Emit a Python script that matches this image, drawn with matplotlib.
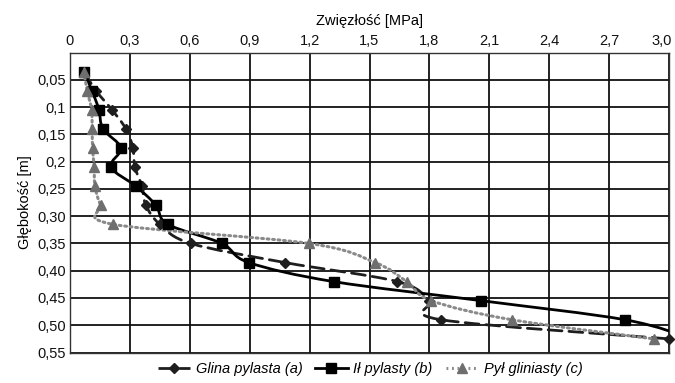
import numpy as np
import matplotlib
matplotlib.use("Agg")
import matplotlib.pyplot as plt
from matplotlib.path import Path
from matplotlib.patches import PathPatch
from matplotlib.lines import Line2D
from matplotlib.transforms import ScaledTranslation

plt.rcParams['font.family'] = ['Liberation Sans', 'DejaVu Sans']

depth = [0.035, 0.07, 0.105, 0.14, 0.175, 0.21, 0.245, 0.28, 0.315,
         0.35, 0.385, 0.42, 0.455, 0.49, 0.525]
glina = [0.07, 0.13, 0.21, 0.28, 0.315, 0.325, 0.36, 0.38, 0.45,
         0.605, 1.075, 1.64, 1.80, 1.86, 3.0]
il = [0.07, 0.11, 0.145, 0.165, 0.255, 0.205, 0.33, 0.43, 0.49,
      0.76, 0.895, 1.32, 2.06, 2.78, 3.12]
pyl = [0.07, 0.086, 0.108, 0.111, 0.113, 0.121, 0.125, 0.154, 0.216,
       1.196, 1.528, 1.686, 1.81, 2.214, 2.923]

labels = ['Glina pylasta (a)', 'Ił pylasty (b)', 'Pył gliniasty (c)']
xticks = [0, 0.3, 0.6, 0.9, 1.2, 1.5, 1.8, 2.1, 2.4, 2.7, 3.0]
xticklabels = ['0', '0,3', '0,6', '0,9', '1,2', '1,5', '1,8', '2,1', '2,4', '2,7', '3,0']
yticks = [0.05, 0.1, 0.15, 0.2, 0.25, 0.3, 0.35, 0.4, 0.45, 0.5, 0.55]
yticklabels = ['0,05', '0,1', '0,15', '0,2', '0,25', '0,30', '0,35', '0,40', '0,45', '0,50', '0,55']


def smooth_path(xs, ys):
    P = np.column_stack([xs, ys]).astype(float)
    n = len(P)
    verts = [P[0]]
    codes = [Path.MOVETO]
    for i in range(n - 1):
        p0 = P[i - 1] if i > 0 else P[i]
        p1 = P[i]
        p2 = P[i + 1]
        p3 = P[i + 2] if i + 2 < n else P[i + 1]
        c1 = p1 + (p2 - p0) / 6.0
        c2 = p2 - (p3 - p1) / 6.0
        verts += [c1, c2, p2]
        codes += [Path.CURVE4] * 3
    return Path(verts, codes)


fig = plt.figure(figsize=(6.75, 3.83), dpi=100)
ax = fig.add_axes([70 / 675, 1 - 352.5 / 383, 599 / 675, 300 / 383])

ax.set_xlim(0, 3.0)
ax.set_ylim(0.55, 0)
ax.xaxis.tick_top()
ax.xaxis.set_label_position('top')
ax.set_xticks(xticks)
ax.set_xticklabels(xticklabels)
ax.set_yticks(yticks)
ax.set_yticklabels(yticklabels)
ax.tick_params(axis='both', length=0, labelsize=10.5, pad=3, colors='#111111')
ax.grid(True, color='#111111', linewidth=1.3)
ax.set_axisbelow(True)
for s in ax.spines.values():
    s.set_color('#333333')
    s.set_linewidth(1.0)

last = ax.get_xticklabels()[-1]
last.set_transform(last.get_transform() + ScaledTranslation(-5 / 72, 0, fig.dpi_scale_trans))

ax.set_xlabel('Zwięzłość [MPa]', fontsize=10.5, labelpad=7)
ax.set_ylabel('Głębokość [m]', fontsize=10.5, labelpad=4)

styles = [
    dict(color='#1e1e1e', ls=(0, (5, 2.5)), lw=2.0, marker='D', ms=5.5, mc='#1e1e1e'),
    dict(color='#000000', ls='-', lw=2.0, marker='s', ms=6.5, mc='#000000'),
    dict(color='#8a8a8a', ls=(0, (0.6, 1.2)), lw=2.2, marker='^', ms=7, mc='#6e6e6e'),
]
series = [glina, il, pyl]
handles = []
for vals, st, lab in zip(series, styles, labels):
    path = smooth_path(vals, depth)
    patch = PathPatch(path, fill=False, edgecolor=st['color'], linestyle=st['ls'],
                      linewidth=st['lw'], capstyle='round', zorder=3)
    ax.add_patch(patch)
    ax.plot(vals, depth, linestyle='none', marker=st['marker'], ms=st['ms'],
            color=st['mc'], zorder=4, clip_on=(lab != labels[0]))
    handles.append(Line2D([], [], color=st['color'], ls=st['ls'], lw=st['lw'],
                          marker=st['marker'], ms=st['ms'], mfc=st['mc'], mec=st['mc']))

leg = fig.legend(handles, labels, loc='center', bbox_to_anchor=(370 / 675, 1 - 369 / 383),
                 ncol=3, frameon=False, handlelength=2.2, columnspacing=0.9,
                 handletextpad=0.4, prop={'style': 'italic', 'size': 10.5})

fig.savefig('out.png', dpi=100)
